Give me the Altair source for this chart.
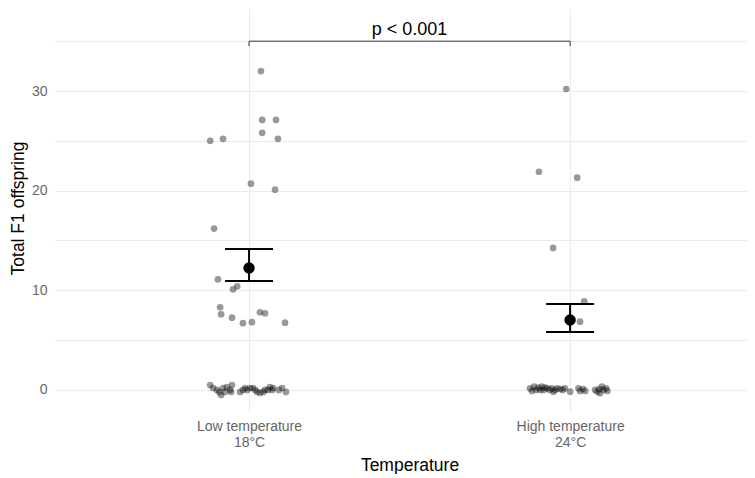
import json
import altair as alt
import pandas as pd

# ---------------- data ----------------
groups = [1, 2]
group_labels = [["Low temperature", "18°C"], ["High temperature", "24°C"]]

# Low temperature (18°C): jitter offset (x, category units) and offspring count
low_dx = [0.037, 0.041, 0.084, 0.041, 0.090, -0.121, -0.081, 0.006, 0.081,
          -0.109, -0.097, -0.050, -0.037, -0.090, -0.087, -0.053, -0.019,
          0.009, 0.034, 0.050, 0.112,
          -0.121, -0.112, -0.100, -0.093, -0.087, -0.081, -0.075, -0.069,
          -0.059, -0.053, -0.056, -0.028, -0.019, -0.012, -0.006, 0.003,
          0.012, 0.019, 0.025, 0.034, 0.044, 0.050, 0.059, 0.065, 0.072,
          0.075, 0.093, 0.103, 0.115]
low_y = [32.0, 27.1, 27.1, 25.8, 25.2, 25.0, 25.2, 20.7, 20.1,
         16.2, 11.1, 10.1, 10.4, 8.3, 7.6, 7.25, 6.7,
         6.8, 7.8, 7.7, 6.75,
         0.5, 0.2, 0.0, -0.2, -0.5, 0.2, -0.2, 0.3,
         0.0, 0.5, -0.2, -0.2, 0.0, 0.2, 0.0, 0.2,
         0.2, 0.0, -0.2, -0.3, -0.2, 0.0, 0.0, 0.3, 0.0,
         0.2, 0.0, 0.2, -0.2]

# High temperature (24°C)
high_dx = [-0.012, -0.097, 0.022, -0.053, 0.044, 0.031,
           -0.125, -0.119, -0.112, -0.106, -0.099, -0.093, -0.088, -0.083,
           -0.078, -0.071, -0.064, -0.057, -0.052, -0.047, -0.040, -0.031,
           -0.023, -0.016, 0.000, 0.026, 0.031, 0.040, 0.047, 0.078, 0.085,
           0.091, 0.099, 0.104, 0.112, 0.116, 0.093]
high_y = [30.2, 21.9, 21.3, 14.25, 8.9, 6.85,
          0.17, -0.1, 0.33, 0.0, 0.23, 0.0, 0.33, 0.0,
          0.23, 0.17, 0.0, 0.17, -0.17, 0.0, 0.17, 0.1,
          0.0, 0.17, -0.17, 0.17, -0.1, 0.1, -0.1, 0.0, -0.17,
          0.1, 0.33, 0.0, 0.17, -0.1, -0.33]

mean_vals = [12.24, 7.02]
ci_low = [10.94, 5.82]
ci_high = [14.15, 8.63]

bracket_y = 35.0
bracket_tip = 34.5
p_label = "p < 0.001"

# ---------------- tables ----------------
pts = pd.DataFrame({
    "x": [groups[0] + d for d in low_dx] + [groups[1] + d for d in high_dx],
    "y": low_y + high_y,
})
summ = pd.DataFrame({"x": groups, "y": mean_vals, "lo": ci_low, "hi": ci_high})
brk = pd.DataFrame({"x": [groups[0]], "x2": [groups[1]], "y": [bracket_y]})
tips = pd.DataFrame({"x": groups, "y": [bracket_y] * 2, "y2": [bracket_tip] * 2})
ptxt = pd.DataFrame({"x": [(groups[0] + groups[1]) / 2], "y": [bracket_y], "t": [p_label]})

FONT = "Liberation Sans"
GRID = "#EBEBEB"
LABEL_COLOR = "#666666"

label_expr = "datum.value == {} ? {} : {}".format(
    groups[0],
    json.dumps(group_labels[0], ensure_ascii=False),
    json.dumps(group_labels[1], ensure_ascii=False),
)

xscale = alt.Scale(domain=[0.3956, 2.551], nice=False, zero=False)
yscale = alt.Scale(domain=[-2.21, 38.33], nice=False, zero=False)

xaxis = alt.Axis(values=groups, labelExpr=label_expr, grid=True, gridColor=GRID,
                 ticks=False, domain=False, labelPadding=7, labelFontSize=14,
                 labelColor=LABEL_COLOR, labelFont=FONT, labelLineHeight=16,
                 labelAngle=0, titleFont=FONT, titleFontSize=17.5, titleColor="black",
                 titleFontWeight="normal", titleX=354.5, titleY=53,
                 titleBaseline="middle", titleAlign="center")
yaxis = alt.Axis(values=[0, 5, 10, 15, 20, 25, 30, 35],
                 labelExpr="datum.value % 10 == 0 ? datum.label : ''",
                 grid=True, gridColor=GRID, ticks=False, domain=False,
                 labelPadding=8, labelFontSize=14, labelColor=LABEL_COLOR,
                 labelFont=FONT, titleFont=FONT, titleFontSize=17.5,
                 titleColor="black", titleFontWeight="normal", titleX=-37,
                 titleY=200, titleAngle=-90, titleBaseline="middle",
                 titleAlign="center")


def X(field):
    return alt.X(field, type="quantitative", scale=xscale, axis=xaxis, title="Temperature")


def Y(field):
    return alt.Y(field, type="quantitative", scale=yscale, axis=yaxis, title="Total F1 offspring")


points = alt.Chart(pts).mark_circle(size=45, color="black", opacity=0.4).encode(
    x=X("x"), y=Y("y"))

err = alt.Chart(summ).mark_rule(color="black", strokeWidth=2).encode(
    x=X("x"), y=Y("lo"), y2="hi")
cap_hi = alt.Chart(summ).mark_tick(orient="horizontal", size=48, thickness=2,
                                   color="black", opacity=1).encode(x=X("x"), y=Y("hi"))
cap_lo = alt.Chart(summ).mark_tick(orient="horizontal", size=48, thickness=2,
                                   color="black", opacity=1).encode(x=X("x"), y=Y("lo"))
mean_pt = alt.Chart(summ).mark_circle(size=130, color="black", opacity=1).encode(
    x=X("x"), y=Y("y"))

bracket = alt.Chart(brk).mark_rule(color="#333333", strokeWidth=1).encode(
    x=X("x"), x2="x2", y=Y("y"))
bracket_tips = alt.Chart(tips).mark_rule(color="#333333", strokeWidth=1).encode(
    x=X("x"), y=Y("y"), y2="y2")
ptext = alt.Chart(ptxt).mark_text(fontSize=18, font=FONT, color="black",
                                  baseline="alphabetic", dy=-6).encode(
    x=X("x"), y=Y("y"), text="t:N")

chart = alt.layer(points, err, cap_hi, cap_lo, mean_pt, bracket, bracket_tips, ptext).properties(
    width=692, height=404,
    autosize=alt.AutoSizeParams(type="none"),
    padding={"left": 47, "top": 0, "right": 0, "bottom": 62},
).configure(background="white", view=alt.ViewConfig(stroke=None))

chart.save("out.html", embed_options={"renderer": "svg", "actions": False})
